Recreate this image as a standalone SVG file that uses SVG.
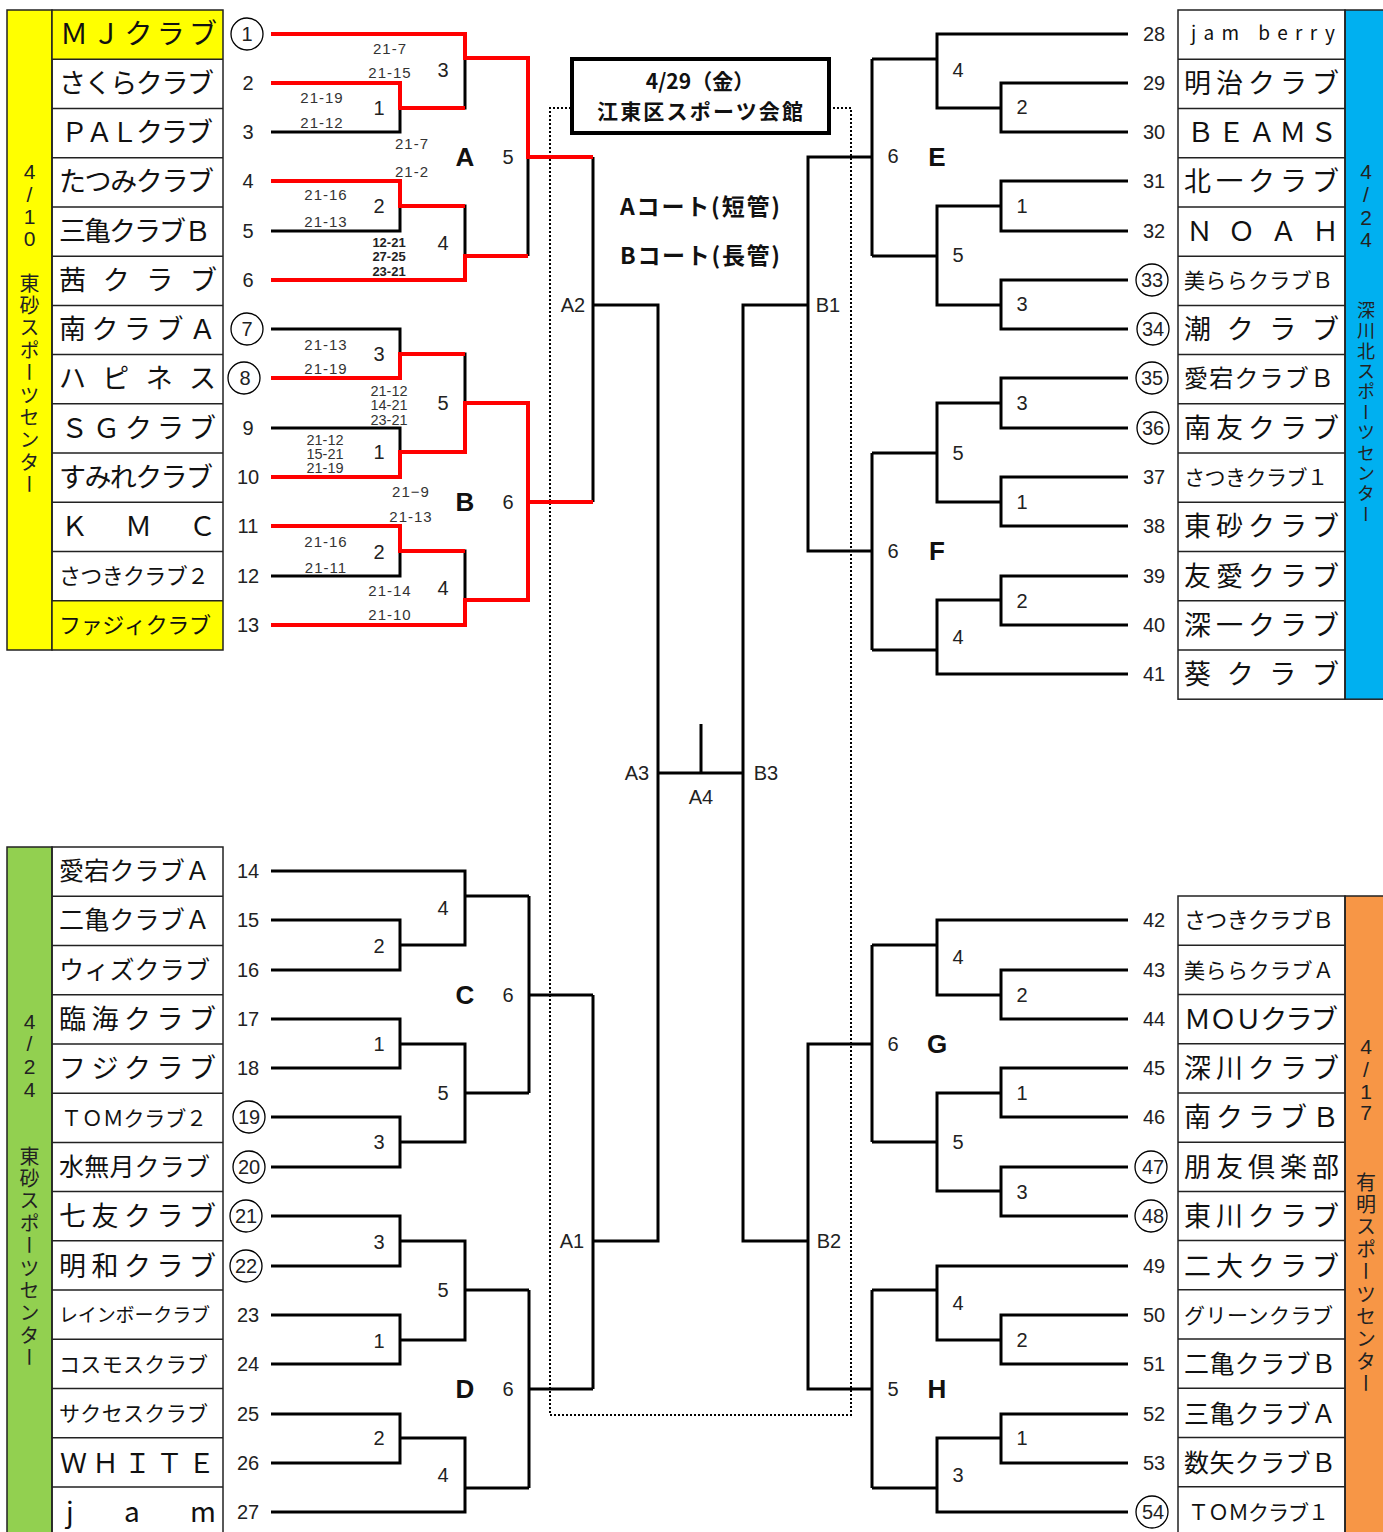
<svg xmlns="http://www.w3.org/2000/svg" width="1383" height="1532" viewBox="0 0 1383 1532">
<style>
.bg{fill:#fff}
.cell{fill:none;stroke:#222;stroke-width:1.5}
.k{fill:none;stroke:#000;stroke-width:3;stroke-linejoin:miter}
.r{fill:none;stroke:#f00;stroke-width:4;stroke-linejoin:miter}
.dot{fill:none;stroke:#000;stroke-width:2;stroke-dasharray:2 2}
.nm{font-family:"Noto Sans CJK JP","Noto Sans",sans-serif;fill:#111}
.num{font-family:"Liberation Sans","Noto Sans",sans-serif;font-size:20px;text-anchor:middle;fill:#222}
.cir{fill:none;stroke:#000;stroke-width:1.3}
.sc{font-family:"Liberation Sans","Noto Sans",sans-serif;font-size:15px;text-anchor:middle;fill:#333;letter-spacing:1px}
.sc3{font-family:"Liberation Sans","Noto Sans",sans-serif;font-size:13px;text-anchor:middle;fill:#222;font-weight:bold}
.sc4{font-family:"Liberation Sans","Noto Sans",sans-serif;font-size:14.5px;text-anchor:middle;fill:#333}
.mn{font-family:"Liberation Sans","Noto Sans",sans-serif;font-size:20px;text-anchor:middle;fill:#222}
.grp{font-family:"Liberation Sans","Noto Sans",sans-serif;font-size:26px;font-weight:bold;text-anchor:middle;fill:#111}
.lab{font-family:"Liberation Sans","Noto Sans",sans-serif;font-size:20px;text-anchor:middle;fill:#222}
.bd{font-family:"Liberation Sans","Noto Sans",sans-serif;font-size:21px;text-anchor:middle;fill:#222}
.vt{font-family:"Noto Sans CJK JP",sans-serif;font-size:20px;writing-mode:vertical-rl;fill:#222;letter-spacing:2.4px}
.hd{font-family:"Noto Sans CJK JP",sans-serif;font-weight:bold;text-anchor:middle;fill:#111}
</style>
<rect class="bg" x="0" y="0" width="1383" height="1532"/>

<!-- Left top block -->
<g id="block-left-top">
<rect x="7" y="10" width="45" height="640" fill="#FFFF00" stroke="#222" stroke-width="1.5"/>
<rect x="52" y="10" width="171" height="49.2" fill="#FFFF00"/>
<rect x="52" y="600.8" width="171" height="49.2" fill="#FFFF00"/>
<rect class="cell" x="52" y="10" width="171" height="640"/>
<path class="cell" d="M52,59.2H223M52,108.5H223M52,157.7H223M52,206.9H223M52,256.2H223M52,305.4H223M52,354.6H223M52,403.8H223M52,453.1H223M52,502.3H223M52,551.5H223M52,600.8H223"/>
<text class="bd"><tspan x="29.5" y="179">4</tspan><tspan x="29.5" y="202">/</tspan><tspan x="29.5" y="224">1</tspan><tspan x="29.5" y="246">0</tspan></text>
<text class="vt" x="29.5" y="273">東砂スポーツセンター</text>
</g>

<g id="block-left-bottom">
<rect x="7" y="847" width="45" height="690" fill="#92D050" stroke="#222" stroke-width="1.5"/>
<rect class="cell" x="52" y="847" width="171" height="690"/>
<path class="cell" d="M52,896.2H223M52,945.5H223M52,994.7H223M52,1043.9H223M52,1093.2H223M52,1142.4H223M52,1191.6H223M52,1240.8H223M52,1290.1H223M52,1339.3H223M52,1388.5H223M52,1437.8H223M52,1487H223"/>
<text class="bd"><tspan x="29.5" y="1029">4</tspan><tspan x="29.5" y="1051">/</tspan><tspan x="29.5" y="1074">2</tspan><tspan x="29.5" y="1097">4</tspan></text>
<text class="vt" x="29.5" y="1146">東砂スポーツセンター</text>
</g>

<g id="block-right-top">
<rect x="1345" y="10" width="40" height="689.2" fill="#00B0F0" stroke="#222" stroke-width="1.5"/>
<rect class="cell" x="1178" y="10" width="167" height="689.2"/>
<path class="cell" d="M1178,59.2H1345M1178,108.5H1345M1178,157.7H1345M1178,206.9H1345M1178,256.2H1345M1178,305.4H1345M1178,354.6H1345M1178,403.8H1345M1178,453.1H1345M1178,502.3H1345M1178,551.5H1345M1178,600.8H1345M1178,650H1345"/>
<text class="bd"><tspan x="1366" y="179">4</tspan><tspan x="1366" y="202">/</tspan><tspan x="1366" y="225">2</tspan><tspan x="1366" y="247">4</tspan></text>
<text class="vt" x="1366" y="301" style="font-size:18px;letter-spacing:2.4px">深川北スポーツセンター</text>
</g>

<g id="block-right-bottom">
<rect x="1345" y="896" width="40" height="641" fill="#F79646" stroke="#222" stroke-width="1.5"/>
<rect class="cell" x="1178" y="896" width="167" height="641"/>
<path class="cell" d="M1178,945.2H1345M1178,994.5H1345M1178,1043.7H1345M1178,1092.9H1345M1178,1142.2H1345M1178,1191.4H1345M1178,1240.6H1345M1178,1289.8H1345M1178,1339.1H1345M1178,1388.3H1345M1178,1437.5H1345M1178,1486.8H1345"/>
<text class="bd"><tspan x="1366" y="1054">4</tspan><tspan x="1366" y="1077">/</tspan><tspan x="1366" y="1099">1</tspan><tspan x="1366" y="1120">7</tspan></text>
<text class="vt" x="1366" y="1172">有明スポーツセンター</text>
</g>

<!-- team names -->
<g id="teams-left-top" class="nm">
<text x="60" y="44" font-size="28" textLength="157" lengthAdjust="spacing">ＭＪクラブ</text>
<text x="59" y="93" font-size="27" textLength="155" lengthAdjust="spacing">さくらクラブ</text>
<text x="61" y="142" font-size="27" textLength="152" lengthAdjust="spacing">ＰＡＬクラブ</text>
<text x="59" y="191" font-size="27" textLength="155" lengthAdjust="spacing">たつみクラブ</text>
<text x="59" y="241" font-size="27" textLength="152" lengthAdjust="spacing">三亀クラブＢ</text>
<text x="59" y="290" font-size="27" textLength="158" lengthAdjust="spacing">茜 ク ラ ブ</text>
<text x="59" y="339" font-size="27" textLength="157" lengthAdjust="spacing">南クラブＡ</text>
<text x="59" y="388" font-size="27" textLength="157" lengthAdjust="spacing">ハ ピ ネ ス</text>
<text x="61" y="438" font-size="27" textLength="155" lengthAdjust="spacing">ＳＧクラブ</text>
<text x="59" y="487" font-size="27" textLength="154" lengthAdjust="spacing">すみれクラブ</text>
<text x="61" y="536" font-size="27" textLength="155" lengthAdjust="spacing">Ｋ Ｍ Ｃ</text>
<text x="59" y="584" font-size="22" textLength="150" lengthAdjust="spacing">さつきクラブ２</text>
<text x="59" y="633" font-size="22" textLength="152" lengthAdjust="spacing">ファジィクラブ</text>
</g>
<g id="teams-left-bottom" class="nm">
<text x="59" y="880" font-size="25" textLength="151" lengthAdjust="spacing">愛宕クラブＡ</text>
<text x="59" y="929" font-size="25" textLength="151" lengthAdjust="spacing">二亀クラブＡ</text>
<text x="59" y="979" font-size="25" textLength="151" lengthAdjust="spacing">ウィズクラブ</text>
<text x="59" y="1029" font-size="27" textLength="157" lengthAdjust="spacing">臨海クラブ</text>
<text x="59" y="1078" font-size="27" textLength="157" lengthAdjust="spacing">フジクラブ</text>
<text x="61" y="1126" font-size="21" textLength="146" lengthAdjust="spacing">ＴＯＭクラブ２</text>
<text x="59" y="1176" font-size="25" textLength="151" lengthAdjust="spacing">水無月クラブ</text>
<text x="59" y="1226" font-size="27" textLength="157" lengthAdjust="spacing">七友クラブ</text>
<text x="59" y="1276" font-size="27" textLength="157" lengthAdjust="spacing">明和クラブ</text>
<text x="59" y="1322" font-size="19" textLength="151" lengthAdjust="spacing">レインボークラブ</text>
<text x="59" y="1372" font-size="21" textLength="149" lengthAdjust="spacing">コスモスクラブ</text>
<text x="59" y="1421" font-size="21" textLength="149" lengthAdjust="spacing">サクセスクラブ</text>
<text x="60" y="1473" font-size="27" textLength="155" lengthAdjust="spacing">ＷＨＩＴＥ</text>
<text x="66" y="1522" font-size="28" textLength="150" lengthAdjust="spacing">j a m</text>
</g>
<g id="teams-right-top" class="nm">
<text x="1191" y="40" font-size="19" textLength="144" lengthAdjust="spacing">jam berry</text>
<text x="1184" y="93" font-size="27" textLength="155" lengthAdjust="spacing">明治クラブ</text>
<text x="1187" y="142" font-size="27" textLength="150" lengthAdjust="spacing">ＢＥＡＭＳ</text>
<text x="1184" y="191" font-size="27" textLength="155" lengthAdjust="spacing">北一クラブ</text>
<text x="1186" y="241" font-size="27" textLength="153" lengthAdjust="spacing">ＮＯＡＨ</text>
<text x="1184" y="288" font-size="21" textLength="149" lengthAdjust="spacing">美ららクラブＢ</text>
<text x="1184" y="339" font-size="27" textLength="155" lengthAdjust="spacing">潮 ク ラ ブ</text>
<text x="1184" y="387" font-size="24" textLength="150" lengthAdjust="spacing">愛宕クラブＢ</text>
<text x="1184" y="438" font-size="27" textLength="155" lengthAdjust="spacing">南友クラブ</text>
<text x="1184" y="485" font-size="21" textLength="144" lengthAdjust="spacing">さつきクラブ１</text>
<text x="1184" y="536" font-size="27" textLength="155" lengthAdjust="spacing">東砂クラブ</text>
<text x="1184" y="586" font-size="27" textLength="155" lengthAdjust="spacing">友愛クラブ</text>
<text x="1184" y="635" font-size="27" textLength="155" lengthAdjust="spacing">深一クラブ</text>
<text x="1184" y="684" font-size="27" textLength="155" lengthAdjust="spacing">葵 ク ラ ブ</text>
</g>
<g id="teams-right-bottom" class="nm">
<text x="1184" y="928" font-size="22" textLength="150" lengthAdjust="spacing">さつきクラブＢ</text>
<text x="1184" y="978" font-size="21" textLength="150" lengthAdjust="spacing">美ららクラブＡ</text>
<text x="1184" y="1029" font-size="27" textLength="154" lengthAdjust="spacing">ＭＯＵクラブ</text>
<text x="1184" y="1078" font-size="27" textLength="155" lengthAdjust="spacing">深川クラブ</text>
<text x="1184" y="1127" font-size="27" textLength="155" lengthAdjust="spacing">南クラブＢ</text>
<text x="1184" y="1177" font-size="27" textLength="155" lengthAdjust="spacing">朋友倶楽部</text>
<text x="1184" y="1226" font-size="27" textLength="155" lengthAdjust="spacing">東川クラブ</text>
<text x="1184" y="1276" font-size="27" textLength="155" lengthAdjust="spacing">二大クラブ</text>
<text x="1184" y="1323" font-size="21" textLength="149" lengthAdjust="spacing">グリーンクラブ</text>
<text x="1184" y="1373" font-size="25" textLength="152" lengthAdjust="spacing">二亀クラブＢ</text>
<text x="1184" y="1423" font-size="25" textLength="152" lengthAdjust="spacing">三亀クラブＡ</text>
<text x="1184" y="1472" font-size="25" textLength="152" lengthAdjust="spacing">数矢クラブＢ</text>
<text x="1188" y="1520" font-size="21" textLength="141" lengthAdjust="spacing">ＴＯＭクラブ１</text>
</g>

<!-- seed numbers -->
<g id="numbers">
<circle class="cir" cx="247" cy="34" r="16"/>
<circle class="cir" cx="247" cy="329" r="16"/>
<circle class="cir" cx="244" cy="378" r="16"/>
<circle class="cir" cx="249" cy="1117" r="16"/>
<circle class="cir" cx="249" cy="1167" r="16"/>
<circle class="cir" cx="246" cy="1216" r="16"/>
<circle class="cir" cx="246" cy="1266" r="16"/>
<circle class="cir" cx="1152" cy="280" r="16"/>
<circle class="cir" cx="1153" cy="329" r="16"/>
<circle class="cir" cx="1152" cy="378" r="16"/>
<circle class="cir" cx="1153" cy="428" r="16"/>
<circle class="cir" cx="1151" cy="1167" r="16"/>
<circle class="cir" cx="1151" cy="1216" r="16"/>
<circle class="cir" cx="1152" cy="1512" r="16"/>
<text class="num" x="247" y="41">1</text>
<text class="num" x="248" y="90">2</text>
<text class="num" x="248" y="139">3</text>
<text class="num" x="248" y="188">4</text>
<text class="num" x="248" y="238">5</text>
<text class="num" x="248" y="287">6</text>
<text class="num" x="247" y="336">7</text>
<text class="num" x="245" y="385">8</text>
<text class="num" x="248" y="435">9</text>
<text class="num" x="248" y="484">10</text>
<text class="num" x="248" y="533">11</text>
<text class="num" x="248" y="583">12</text>
<text class="num" x="248" y="632">13</text>
<text class="num" x="248" y="878">14</text>
<text class="num" x="248" y="927">15</text>
<text class="num" x="248" y="977">16</text>
<text class="num" x="248" y="1026">17</text>
<text class="num" x="248" y="1075">18</text>
<text class="num" x="249" y="1124">19</text>
<text class="num" x="249" y="1174">20</text>
<text class="num" x="246" y="1223">21</text>
<text class="num" x="246" y="1273">22</text>
<text class="num" x="248" y="1322">23</text>
<text class="num" x="248" y="1371">24</text>
<text class="num" x="248" y="1421">25</text>
<text class="num" x="248" y="1470">26</text>
<text class="num" x="248" y="1519">27</text>
<text class="num" x="1154" y="41">28</text>
<text class="num" x="1154" y="90">29</text>
<text class="num" x="1154" y="139">30</text>
<text class="num" x="1154" y="188">31</text>
<text class="num" x="1154" y="238">32</text>
<text class="num" x="1152" y="287">33</text>
<text class="num" x="1153" y="336">34</text>
<text class="num" x="1152" y="385">35</text>
<text class="num" x="1153" y="435">36</text>
<text class="num" x="1154" y="484">37</text>
<text class="num" x="1154" y="533">38</text>
<text class="num" x="1154" y="583">39</text>
<text class="num" x="1154" y="632">40</text>
<text class="num" x="1154" y="681">41</text>
<text class="num" x="1154" y="927">42</text>
<text class="num" x="1154" y="977">43</text>
<text class="num" x="1154" y="1026">44</text>
<text class="num" x="1154" y="1075">45</text>
<text class="num" x="1154" y="1124">46</text>
<text class="num" x="1153" y="1174">47</text>
<text class="num" x="1153" y="1223">48</text>
<text class="num" x="1154" y="1273">49</text>
<text class="num" x="1154" y="1322">50</text>
<text class="num" x="1154" y="1371">51</text>
<text class="num" x="1154" y="1421">52</text>
<text class="num" x="1154" y="1470">53</text>
<text class="num" x="1153" y="1519">54</text>
</g>

<!-- header -->
<g id="venue-box">
<path class="dot" d="M571,108H550V1415H851V108H829"/>
<rect x="572" y="59" width="257" height="74" fill="#fff" stroke="#000" stroke-width="4"/>
<text class="hd" x="700" y="89" font-size="21">4/29（金）</text>
<text class="hd" x="700" y="119" font-size="21" textLength="206" lengthAdjust="spacing">江東区スポーツ会館</text>
</g>
<g id="court-labels">
<text class="hd" x="700" y="215" font-size="23" textLength="160" lengthAdjust="spacing">Aコート(短管)</text>
<text class="hd" x="700" y="264" font-size="23" textLength="160" lengthAdjust="spacing">Bコート(長管)</text>
</g>

<!-- connectors -->
<g id="connectors">
<path class="k" d="M271,34H465V108H400M271,83H400V132H271M465,58H528M271,181H400V231H271M400,206H465V280H271M465,256H528M528,58V256M528,157H593"/>
<path class="k" d="M271,329H400V378H271M400,354H465V452H400M271,428H400V477H271M465,403H528M271,526H400V576H271M400,551H465V625H271M465,600H528M528,403V600M528,502H593"/>
<path class="k" d="M593,157V502M593,305H658V1241H593M593,995V1389M658,773H743M701,724V773M808,305H743V1241H808M872,157H808V551H872M872,1044H808V1389H872"/>
<path class="k" d="M271,871H465V945H400M271,920H400V970H271M465,896H529M271,1019H400V1068H271M400,1044H465V1142H400M271,1117H400V1167H271M465,1093H529M529,896V1093M529,995H593"/>
<path class="k" d="M271,1216H400V1266H271M400,1241H465V1340H400M271,1315H400V1364H271M465,1290H529M271,1414H400V1463H271M400,1438H465V1512H271M465,1488H529M529,1290V1488M529,1389H593"/>
<path class="k" d="M1128,34H937V108H1001M1128,83H1001V132H1128M937,59H872M1128,181H1001V231H1128M1001,206H937V305H1001M1128,280H1001V329H1128M937,256H872M872,59V256"/>
<path class="k" d="M1128,378H1001V428H1128M1001,403H937V502H1001M1128,477H1001V526H1128M937,453H872M1128,576H1001V625H1128M1001,600H937V674H1128M937,650H872M872,453V650"/>
<path class="k" d="M1128,920H937V995H1001M1128,970H1001V1019H1128M937,945H872M1128,1068H1001V1117H1128M1001,1093H937V1191H1001M1128,1167H1001V1216H1128M937,1142H872M872,945V1142"/>
<path class="k" d="M1128,1266H937V1340H1001M1128,1315H1001V1364H1128M937,1290H872M1128,1414H1001V1463H1128M1001,1438H937V1512H1128M937,1488H872M872,1290V1488"/>
<path class="r" d="M271,34H465V58H528V157H593"/>
<path class="r" d="M271,83H400V108H465"/>
<path class="r" d="M271,181H400V206H465"/>
<path class="r" d="M271,280H465V256H528"/>
<path class="r" d="M271,378H400V354H465"/>
<path class="r" d="M271,477H400V452H465V403H528V600H465V625H271"/>
<path class="r" d="M271,526H400V551H465"/>
<path class="r" d="M528,502H593"/>
</g>

<!-- match labels -->
<g id="labels-A">
<text class="mn" x="443" y="77">3</text>
<text class="mn" x="379" y="115">1</text>
<text class="grp" x="465" y="166">A</text>
<text class="mn" x="508" y="164">5</text>
<text class="mn" x="379" y="213">2</text>
<text class="mn" x="443" y="250">4</text>
<text class="sc" x="390" y="54">21-7</text>
<text class="sc" x="390" y="78">21-15</text>
<text class="sc" x="322" y="103">21-19</text>
<text class="sc" x="322" y="128">21-12</text>
<text class="sc" x="412" y="149">21-7</text>
<text class="sc" x="412" y="177">21-2</text>
<text class="sc" x="326" y="200">21-16</text>
<text class="sc" x="326" y="227">21-13</text>
<text class="sc3" x="389" y="247">12-21</text>
<text class="sc3" x="389" y="261">27-25</text>
<text class="sc3" x="389" y="276">23-21</text>
</g>
<g id="labels-B">
<text class="mn" x="379" y="361">3</text>
<text class="mn" x="443" y="410">5</text>
<text class="mn" x="379" y="459">1</text>
<text class="grp" x="465" y="511">B</text>
<text class="mn" x="508" y="509">6</text>
<text class="mn" x="379" y="559">2</text>
<text class="mn" x="443" y="595">4</text>
<text class="sc" x="326" y="350">21-13</text>
<text class="sc" x="326" y="374">21-19</text>
<text class="sc4" x="389" y="396">21-12</text>
<text class="sc4" x="389" y="410">14-21</text>
<text class="sc4" x="389" y="425">23-21</text>
<text class="sc4" x="325" y="445">21-12</text>
<text class="sc4" x="325" y="459">15-21</text>
<text class="sc4" x="325" y="473">21-19</text>
<text class="sc" x="411" y="497">21−9</text>
<text class="sc" x="411" y="522">21-13</text>
<text class="sc" x="326" y="547">21-16</text>
<text class="sc" x="326" y="573">21-11</text>
<text class="sc" x="390" y="596">21-14</text>
<text class="sc" x="390" y="620">21-10</text>
</g>
<g id="labels-C">
<text class="mn" x="443" y="915">4</text>
<text class="mn" x="379" y="953">2</text>
<text class="grp" x="465" y="1004">C</text>
<text class="mn" x="508" y="1002">6</text>
<text class="mn" x="379" y="1051">1</text>
<text class="mn" x="443" y="1100">5</text>
<text class="mn" x="379" y="1149">3</text>
</g>
<g id="labels-D">
<text class="mn" x="379" y="1249">3</text>
<text class="mn" x="443" y="1297">5</text>
<text class="mn" x="379" y="1348">1</text>
<text class="grp" x="465" y="1398">D</text>
<text class="mn" x="508" y="1396">6</text>
<text class="mn" x="379" y="1445">2</text>
<text class="mn" x="443" y="1482">4</text>
</g>
<g id="labels-E">
<text class="mn" x="958" y="77">4</text>
<text class="mn" x="1022" y="114">2</text>
<text class="mn" x="893" y="163">6</text>
<text class="grp" x="937" y="166">E</text>
<text class="mn" x="1022" y="213">1</text>
<text class="mn" x="958" y="262">5</text>
<text class="mn" x="1022" y="311">3</text>
</g>
<g id="labels-F">
<text class="mn" x="1022" y="410">3</text>
<text class="mn" x="958" y="460">5</text>
<text class="mn" x="1022" y="509">1</text>
<text class="mn" x="893" y="558">6</text>
<text class="grp" x="937" y="560">F</text>
<text class="mn" x="1022" y="608">2</text>
<text class="mn" x="958" y="644">4</text>
</g>
<g id="labels-G">
<text class="mn" x="958" y="964">4</text>
<text class="mn" x="1022" y="1002">2</text>
<text class="mn" x="893" y="1051">6</text>
<text class="grp" x="937" y="1053">G</text>
<text class="mn" x="1022" y="1100">1</text>
<text class="mn" x="958" y="1149">5</text>
<text class="mn" x="1022" y="1199">3</text>
</g>
<g id="labels-H">
<text class="mn" x="958" y="1310">4</text>
<text class="mn" x="1022" y="1347">2</text>
<text class="mn" x="893" y="1396">5</text>
<text class="grp" x="937" y="1398">H</text>
<text class="mn" x="1022" y="1445">1</text>
<text class="mn" x="958" y="1482">3</text>
</g>
<g id="labels-final">
<text class="lab" x="573" y="312">A2</text>
<text class="lab" x="572" y="1248">A1</text>
<text class="lab" x="637" y="780">A3</text>
<text class="lab" x="766" y="780">B3</text>
<text class="lab" x="701" y="804">A4</text>
<text class="lab" x="828" y="312">B1</text>
<text class="lab" x="829" y="1248">B2</text>
</g>
</svg>
